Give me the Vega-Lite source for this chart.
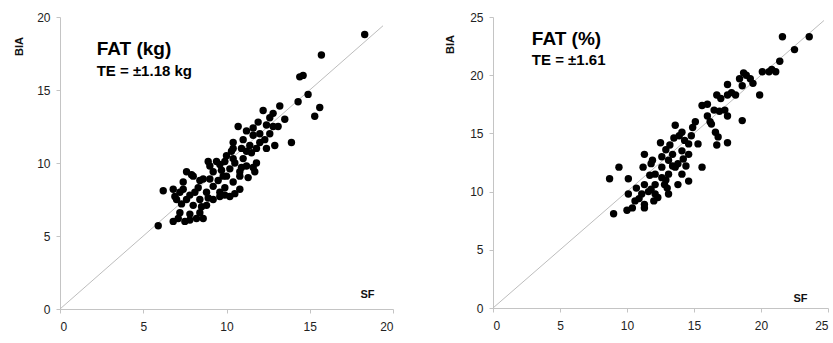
{
  "$schema": "https://vega.github.io/schema/vega-lite/v6.json",
  "padding": {"left": 13, "top": 11, "right": 0, "bottom": 0},
  "background": "white",
  "config": {
    "view": {"stroke": null},
    "font": "Liberation Sans",
    "axis": {
      "grid": false,
      "domainColor": "#c4c4c4",
      "tickColor": "#c4c4c4",
      "tickSize": 4,
      "labelFont": "Liberation Sans",
      "labelFontSize": 12,
      "labelColor": "#222222",
      "titleFont": "Liberation Sans",
      "titleFontSize": 11,
      "titleFontWeight": "bold",
      "titleColor": "#111111"
    }
  },
  "spacing": 50,
  "datasets": {
    "kg": [
      {"sf": 18.3, "bia": 18.8}, {"sf": 15.7, "bia": 17.4}, {"sf": 14.6, "bia": 16.0}, {"sf": 14.4, "bia": 15.9},
      {"sf": 14.9, "bia": 14.7}, {"sf": 14.3, "bia": 14.2}, {"sf": 15.6, "bia": 13.8}, {"sf": 15.3, "bia": 13.2},
      {"sf": 13.9, "bia": 11.4}, {"sf": 12.9, "bia": 11.2}, {"sf": 12.2, "bia": 13.6}, {"sf": 12.8, "bia": 13.4},
      {"sf": 13.2, "bia": 13.9}, {"sf": 13.5, "bia": 13.0}, {"sf": 12.8, "bia": 12.5}, {"sf": 13.1, "bia": 12.5},
      {"sf": 12.4, "bia": 12.6}, {"sf": 10.7, "bia": 12.5}, {"sf": 11.2, "bia": 12.2}, {"sf": 11.6, "bia": 11.9},
      {"sf": 12.0, "bia": 11.4}, {"sf": 11.4, "bia": 11.2}, {"sf": 10.4, "bia": 11.4}, {"sf": 10.3, "bia": 10.8},
      {"sf": 11.2, "bia": 10.8}, {"sf": 11.8, "bia": 11.0}, {"sf": 12.3, "bia": 11.6}, {"sf": 11.0, "bia": 11.6},
      {"sf": 9.9, "bia": 10.1}, {"sf": 10.4, "bia": 10.3}, {"sf": 10.2, "bia": 9.6}, {"sf": 10.9, "bia": 9.7},
      {"sf": 11.6, "bia": 9.7}, {"sf": 11.7, "bia": 9.4}, {"sf": 10.0, "bia": 9.1}, {"sf": 10.8, "bia": 9.1},
      {"sf": 8.9, "bia": 10.1}, {"sf": 6.2, "bia": 8.1}, {"sf": 5.9, "bia": 5.7}, {"sf": 6.9, "bia": 7.7},
      {"sf": 7.4, "bia": 8.2}, {"sf": 7.9, "bia": 9.2}, {"sf": 8.4, "bia": 8.8}, {"sf": 6.8, "bia": 6.0},
      {"sf": 7.5, "bia": 6.0}, {"sf": 8.2, "bia": 6.2}, {"sf": 7.2, "bia": 6.6}, {"sf": 8.0, "bia": 7.1},
      {"sf": 7.6, "bia": 7.5}, {"sf": 8.4, "bia": 7.5}, {"sf": 8.8, "bia": 8.0}, {"sf": 7.0, "bia": 7.5},
      {"sf": 6.8, "bia": 8.2}, {"sf": 7.4, "bia": 8.7}, {"sf": 8.0, "bia": 9.1}, {"sf": 7.6, "bia": 9.4},
      {"sf": 8.6, "bia": 8.9}, {"sf": 9.2, "bia": 8.4}, {"sf": 9.6, "bia": 7.7}, {"sf": 10.2, "bia": 7.7},
      {"sf": 10.8, "bia": 8.2}, {"sf": 10.4, "bia": 8.7}, {"sf": 9.8, "bia": 9.1}, {"sf": 9.2, "bia": 9.4},
      {"sf": 11.2, "bia": 9.8}, {"sf": 10.8, "bia": 9.4}, {"sf": 9.4, "bia": 10.1}, {"sf": 10.0, "bia": 10.5},
      {"sf": 10.4, "bia": 11.0}, {"sf": 8.4, "bia": 6.6}, {"sf": 8.8, "bia": 7.1}, {"sf": 9.2, "bia": 7.5},
      {"sf": 8.6, "bia": 6.2}, {"sf": 9.0, "bia": 8.9}, {"sf": 9.5, "bia": 8.8}, {"sf": 9.9, "bia": 8.3},
      {"sf": 8.3, "bia": 8.3}, {"sf": 7.8, "bia": 7.8}, {"sf": 9.0, "bia": 9.8}, {"sf": 9.7, "bia": 9.5},
      {"sf": 10.5, "bia": 10.0}, {"sf": 11.0, "bia": 10.3}, {"sf": 11.5, "bia": 10.7}, {"sf": 12.0, "bia": 12.0},
      {"sf": 11.6, "bia": 12.4}, {"sf": 12.6, "bia": 12.0}, {"sf": 7.1, "bia": 6.2}, {"sf": 7.8, "bia": 6.5},
      {"sf": 7.3, "bia": 7.2}, {"sf": 8.1, "bia": 8.0}, {"sf": 8.9, "bia": 7.6}, {"sf": 9.6, "bia": 8.0},
      {"sf": 10.5, "bia": 7.9}, {"sf": 11.8, "bia": 10.0}, {"sf": 12.6, "bia": 13.1}, {"sf": 11.9, "bia": 12.8},
      {"sf": 10.9, "bia": 11.0}, {"sf": 9.6, "bia": 9.9}, {"sf": 7.2, "bia": 8.0}, {"sf": 8.5, "bia": 7.0},
      {"sf": 9.9, "bia": 7.8}, {"sf": 11.3, "bia": 9.0}, {"sf": 12.4, "bia": 11.0}, {"sf": 7.8, "bia": 6.1}
    ],
    "pct": [
      {"sf": 21.6, "bia": 23.3}, {"sf": 23.6, "bia": 23.3}, {"sf": 22.5, "bia": 22.2}, {"sf": 21.4, "bia": 21.2},
      {"sf": 20.1, "bia": 20.3}, {"sf": 20.6, "bia": 20.3}, {"sf": 21.1, "bia": 20.3}, {"sf": 18.7, "bia": 20.2},
      {"sf": 19.2, "bia": 19.7}, {"sf": 18.4, "bia": 19.7}, {"sf": 17.5, "bia": 19.2}, {"sf": 18.6, "bia": 19.1},
      {"sf": 18.1, "bia": 18.3}, {"sf": 17.5, "bia": 18.3}, {"sf": 16.7, "bia": 18.3}, {"sf": 19.9, "bia": 18.3},
      {"sf": 15.6, "bia": 17.4}, {"sf": 16.0, "bia": 17.5}, {"sf": 17.3, "bia": 17.0}, {"sf": 17.5, "bia": 16.5},
      {"sf": 16.0, "bia": 16.5}, {"sf": 18.6, "bia": 16.1}, {"sf": 16.3, "bia": 15.8}, {"sf": 16.6, "bia": 15.1},
      {"sf": 16.8, "bia": 14.7}, {"sf": 16.7, "bia": 14.0}, {"sf": 17.5, "bia": 14.2}, {"sf": 15.6, "bia": 12.1},
      {"sf": 13.6, "bia": 15.7}, {"sf": 14.1, "bia": 15.1}, {"sf": 14.9, "bia": 15.5}, {"sf": 12.5, "bia": 14.2},
      {"sf": 14.3, "bia": 14.4}, {"sf": 14.6, "bia": 14.1}, {"sf": 14.1, "bia": 13.5}, {"sf": 13.4, "bia": 13.2},
      {"sf": 14.6, "bia": 13.2}, {"sf": 11.3, "bia": 13.2}, {"sf": 11.9, "bia": 12.7}, {"sf": 13.1, "bia": 12.7},
      {"sf": 11.2, "bia": 12.1}, {"sf": 12.6, "bia": 12.1}, {"sf": 13.6, "bia": 12.1}, {"sf": 12.1, "bia": 11.5},
      {"sf": 13.1, "bia": 11.5}, {"sf": 14.1, "bia": 11.5}, {"sf": 14.6, "bia": 10.9}, {"sf": 13.8, "bia": 10.6},
      {"sf": 12.8, "bia": 10.6}, {"sf": 12.1, "bia": 10.6}, {"sf": 11.3, "bia": 10.6}, {"sf": 10.7, "bia": 10.3},
      {"sf": 10.1, "bia": 9.8}, {"sf": 11.1, "bia": 9.8}, {"sf": 12.1, "bia": 9.8}, {"sf": 13.1, "bia": 9.8},
      {"sf": 12.3, "bia": 9.5}, {"sf": 10.6, "bia": 9.2}, {"sf": 11.3, "bia": 8.9}, {"sf": 10.4, "bia": 8.6},
      {"sf": 10.0, "bia": 8.4}, {"sf": 9.0, "bia": 8.1}, {"sf": 9.4, "bia": 12.1}, {"sf": 8.7, "bia": 11.1},
      {"sf": 10.1, "bia": 11.1}, {"sf": 11.3, "bia": 8.6}, {"sf": 13.9, "bia": 14.8}, {"sf": 13.2, "bia": 14.0},
      {"sf": 12.6, "bia": 13.0}, {"sf": 13.8, "bia": 12.4}, {"sf": 12.9, "bia": 11.0}, {"sf": 11.8, "bia": 10.2},
      {"sf": 14.4, "bia": 12.2}, {"sf": 15.1, "bia": 16.0}, {"sf": 16.9, "bia": 16.9}, {"sf": 17.0, "bia": 18.0},
      {"sf": 18.9, "bia": 20.0}, {"sf": 12.0, "bia": 9.2}, {"sf": 11.7, "bia": 11.4},
      {"sf": 11.6, "bia": 10.0}, {"sf": 12.6, "bia": 11.2}, {"sf": 13.4, "bia": 12.2}, {"sf": 12.9, "bia": 13.6},
      {"sf": 13.5, "bia": 14.6}, {"sf": 14.8, "bia": 14.8}, {"sf": 15.3, "bia": 14.1}, {"sf": 16.2, "bia": 16.0},
      {"sf": 16.5, "bia": 17.0}, {"sf": 17.8, "bia": 18.5}, {"sf": 19.4, "bia": 19.3}, {"sf": 20.8, "bia": 20.5},
      {"sf": 10.9, "bia": 9.4}, {"sf": 11.8, "bia": 12.4}, {"sf": 14.2, "bia": 12.8}, {"sf": 13.0, "bia": 10.3}
    ]
  },
  "hconcat": [
    {
      "width": 333,
      "height": 292,
      "layer": [
        {
          "data": {"values": [{}]},
          "mark": {"type": "rule", "color": "#bdbdbd", "strokeWidth": 1},
          "encoding": {
            "x": {"datum": 0, "type": "quantitative", "scale": {"domain": [0, 20], "nice": false}},
            "y": {"datum": 0, "type": "quantitative", "scale": {"domain": [0, 20], "nice": false}},
            "x2": {"datum": 19.4},
            "y2": {"datum": 19.4}
          }
        },
        {
          "data": {"name": "kg"},
          "mark": {"type": "circle", "color": "#000000", "opacity": 1, "size": 55},
          "encoding": {
            "x": {"field": "sf", "type": "quantitative", "scale": {"domain": [0, 20], "nice": false},
              "axis": {"values": [0, 5, 10, 15, 20], "title": "SF", "titleX": 307, "titleY": -15, "titleAlign": "center", "titleBaseline": "middle", "labelPadding": 8}},
            "y": {"field": "bia", "type": "quantitative", "scale": {"domain": [0, 20], "nice": false},
              "axis": {"values": [0, 5, 10, 15, 20], "title": "BIA", "titleX": -41, "titleY": 29, "titleAlign": "center", "titleBaseline": "middle", "labelPadding": 6}}
          }
        },
        {
          "data": {"values": [{}]},
          "mark": {"type": "text", "align": "left", "baseline": "middle", "fontSize": 19, "fontWeight": "bold", "font": "Liberation Sans", "color": "#000000"},
          "encoding": {"x": {"datum": 2.2}, "y": {"datum": 17.8}, "text": {"value": "FAT (kg)"}}
        },
        {
          "data": {"values": [{}]},
          "mark": {"type": "text", "align": "left", "baseline": "middle", "fontSize": 15, "fontWeight": "bold", "font": "Liberation Sans", "color": "#000000"},
          "encoding": {"x": {"datum": 2.2}, "y": {"datum": 16.3}, "text": {"value": "TE = ±1.18 kg"}}
        }
      ]
    },
    {
      "width": 335,
      "height": 291,
      "layer": [
        {
          "data": {"values": [{}]},
          "mark": {"type": "rule", "color": "#bdbdbd", "strokeWidth": 1},
          "encoding": {
            "x": {"datum": 0, "type": "quantitative", "scale": {"domain": [0, 25], "nice": false}},
            "y": {"datum": 0, "type": "quantitative", "scale": {"domain": [0, 25], "nice": false}},
            "x2": {"datum": 24.7},
            "y2": {"datum": 24.7}
          }
        },
        {
          "data": {"name": "pct"},
          "mark": {"type": "circle", "color": "#000000", "opacity": 1, "size": 55},
          "encoding": {
            "x": {"field": "sf", "type": "quantitative", "scale": {"domain": [0, 25], "nice": false},
              "axis": {"values": [0, 5, 10, 15, 20, 25], "title": "SF", "titleX": 307, "titleY": -10, "titleAlign": "center", "titleBaseline": "middle", "labelPadding": 8}},
            "y": {"field": "bia", "type": "quantitative", "scale": {"domain": [0, 25], "nice": false},
              "axis": {"values": [0, 5, 10, 15, 20, 25], "title": "BIA", "titleX": -43, "titleY": 27, "titleAlign": "center", "titleBaseline": "middle", "labelPadding": 6}}
          }
        },
        {
          "data": {"values": [{}]},
          "mark": {"type": "text", "align": "left", "baseline": "middle", "fontSize": 19, "fontWeight": "bold", "font": "Liberation Sans", "color": "#000000"},
          "encoding": {"x": {"datum": 2.9}, "y": {"datum": 23.1}, "text": {"value": "FAT (%)"}}
        },
        {
          "data": {"values": [{}]},
          "mark": {"type": "text", "align": "left", "baseline": "middle", "fontSize": 15, "fontWeight": "bold", "font": "Liberation Sans", "color": "#000000"},
          "encoding": {"x": {"datum": 2.9}, "y": {"datum": 21.3}, "text": {"value": "TE = ±1.61"}}
        }
      ]
    }
  ]
}
